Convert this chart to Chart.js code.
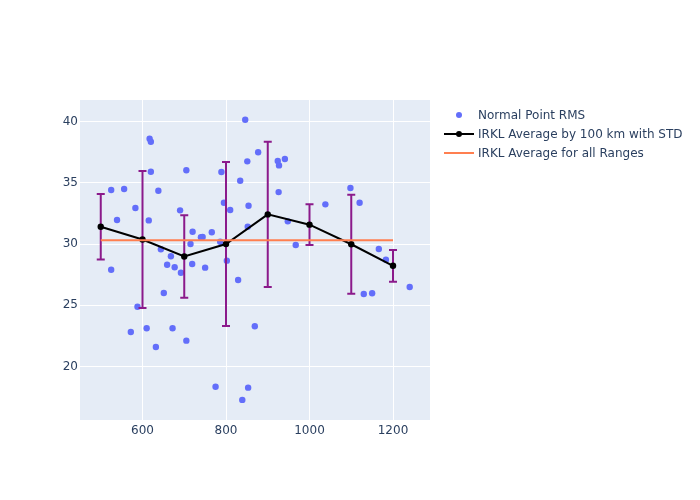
<!DOCTYPE html>
<html>
<head>
<meta charset="utf-8">
<script src="https://cdn.jsdelivr.net/npm/chart.js@4"></script>
<style>
  html,body{margin:0;padding:0;background:#fff;}
  #wrap{width:700px;height:500px;position:relative;}
</style>
</head>
<body>
<div id="wrap"><canvas id="c" width="700" height="500"></canvas></div>
<script>
// ---- data ----
const pointRange = [525,556,539,583,617,620,620,638,615,644,668,690,705,720,715,740,744,766,786,789,795,810,834,851,846,854,852,877,924,927,941,926,948,967,1038,1098,1120,1166,1183,659,677,692,719,750,802,525,829,651,588,572,610,672,632,705,869,775,853,839,1240,1130,1150];
const pointRMS = [34.41,34.49,31.96,32.94,38.60,38.35,35.90,34.35,31.93,29.57,29.00,32.75,36.02,31.00,30.00,30.55,30.57,30.96,30.19,35.88,33.37,32.78,35.17,36.75,40.15,33.13,31.41,37.49,36.78,36.42,36.94,34.24,31.85,29.92,33.24,34.57,33.37,29.59,28.72,28.31,28.10,27.66,28.37,28.07,28.64,27.90,27.06,26.00,24.88,22.82,23.12,23.12,21.59,22.11,23.28,18.35,18.27,17.27,26.49,25.92,25.98];
const avgRange = [500,600,700,800,900,1000,1100,1200];
const avgRMS = [31.41,30.37,28.98,30.00,32.42,31.58,29.98,28.22];
const avgStd = [2.68,5.60,3.37,6.69,5.93,1.66,4.04,1.30];
const overallRange = [500,1200];
const overallRMS = [30.30,30.30];
const xTicks = [600,800,1000,1200];
const yTicks = [20,25,30,35,40];
const legendLabels = ['Normal Point RMS','IRKL Average by 100 km with STD','IRKL Average for all Ranges'];

const FONT = '"DejaVu Sans", verdana, arial, sans-serif';
const TXT = '#2a3f5f';

const bgPlugin = {
  id:'bg',
  beforeDraw(chart){
    const {ctx, chartArea:a} = chart;
    ctx.save();
    ctx.fillStyle = '#E5ECF6';
    ctx.fillRect(a.left, a.top, a.right-a.left, a.bottom-a.top);
    ctx.restore();
  }
};

const errPlugin = {
  id:'err',
  beforeDatasetDraw(chart, args){
    if (args.index !== 1) return;
    const {ctx, scales:{x,y}} = chart;
    ctx.save();
    ctx.strokeStyle = '#8b1a8b';
    ctx.lineWidth = 2;
    avgRange.forEach((r,i)=>{
      const px = x.getPixelForValue(r);
      const pt = y.getPixelForValue(avgRMS[i]+avgStd[i]);
      const pb = y.getPixelForValue(avgRMS[i]-avgStd[i]);
      ctx.beginPath();
      ctx.moveTo(px,pt); ctx.lineTo(px,pb);
      ctx.moveTo(px-4,pt); ctx.lineTo(px+4,pt);
      ctx.moveTo(px-4,pb); ctx.lineTo(px+4,pb);
      ctx.stroke();
    });
    ctx.restore();
  }
};

const legendPlugin = {
  id:'leg',
  afterDraw(chart){
    const ctx = chart.ctx;
    ctx.save();
    ctx.font = '12px ' + FONT;
    ctx.textBaseline = 'middle';
    const x0 = 444, ys = [115,134,153];
    ctx.fillStyle = '#636efa';
    ctx.beginPath(); ctx.arc(x0+15, ys[0], 3, 0, Math.PI*2); ctx.fill();
    ctx.strokeStyle = '#000'; ctx.lineWidth = 2;
    ctx.beginPath(); ctx.moveTo(x0, ys[1]); ctx.lineTo(x0+30, ys[1]); ctx.stroke();
    ctx.fillStyle = '#000';
    ctx.beginPath(); ctx.arc(x0+15, ys[1], 3, 0, Math.PI*2); ctx.fill();
    ctx.strokeStyle = 'coral'; ctx.lineWidth = 2;
    ctx.beginPath(); ctx.moveTo(x0, ys[2]); ctx.lineTo(x0+30, ys[2]); ctx.stroke();
    ctx.fillStyle = TXT;
    legendLabels.forEach((t,i)=> ctx.fillText(t, x0+34, ys[i]+1));
    ctx.restore();
  }
};

new Chart(document.getElementById('c'), {
  type:'scatter',
  data:{
    datasets:[
      {label:legendLabels[0], data:pointRange.map((r,i)=>({x:r,y:pointRMS[i]})),
       backgroundColor:'#636efa', borderColor:'#636efa', pointRadius:3.2, borderWidth:0, order:3},
      {label:legendLabels[1], data:avgRange.map((r,i)=>({x:r,y:avgRMS[i]})), showLine:true,
       borderColor:'#000', backgroundColor:'#000', borderWidth:2, pointRadius:3.2, pointBorderWidth:0, order:2},
      {label:legendLabels[2], data:overallRange.map((r,i)=>({x:r,y:overallRMS[i]})), showLine:true,
       borderColor:'coral', backgroundColor:'coral', borderWidth:2, pointRadius:0, order:1}
    ]
  },
  options:{
    responsive:false, animation:false, events:[],
    layout:{padding:{left:0,top:100,right:270,bottom:0}},
    plugins:{legend:{display:false}, tooltip:{enabled:false}},
    scales:{
      x:{type:'linear', min:450.3, max:1288.6,
         afterBuildTicks(s){ s.ticks = xTicks.map(v=>({value:v})); },
         afterFit(s){ s.height = 80; },
         grid:{color:'#fff', lineWidth:1, drawTicks:false},
         border:{display:false},
         ticks:{padding:4, color:TXT, font:{family:FONT, size:12}, maxRotation:0,
                callback:(v)=>String(v)}},
      y:{type:'linear', min:15.63, max:41.76,
         afterBuildTicks(s){ s.ticks = yTicks.map(v=>({value:v})); },
         afterFit(s){ s.width = 80; },
         grid:{color:'#fff', lineWidth:1, drawTicks:false},
         border:{display:false},
         ticks:{padding:2, color:TXT, font:{family:FONT, size:12}, callback:(v)=>String(v)}}
    }
  },
  plugins:[bgPlugin, errPlugin, legendPlugin]
});
</script>
</body>
</html>
